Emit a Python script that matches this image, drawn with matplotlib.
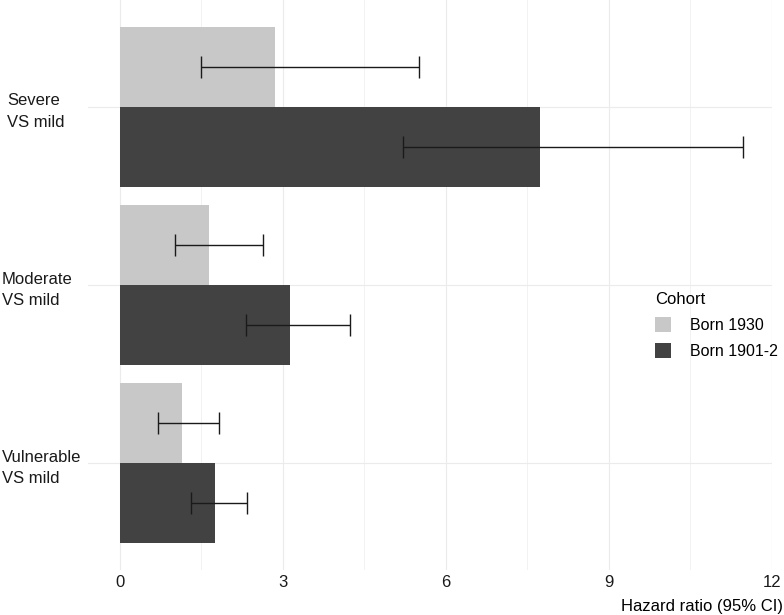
import matplotlib
matplotlib.use("Agg")
import matplotlib.pyplot as plt
import matplotlib.transforms as mtransforms
from matplotlib.patches import Patch
import numpy as np

plt.rcParams['font.family'] = ['Liberation Sans', 'DejaVu Sans']

# ---- data ----
categories = ["Vulnerable\nVS mild", "Moderate\nVS mild", "Severe\nVS mild"]
cohorts = ["Born 1930", "Born 1901-2"]
hr_1930 = [1.14, 1.64, 2.86]
lo_1930 = [0.71, 1.02, 1.49]
hi_1930 = [1.83, 2.64, 5.51]
hr_1901 = [1.76, 3.14, 7.73]
lo_1901 = [1.32, 2.33, 5.21]
hi_1901 = [2.35, 4.23, 11.46]
x_ticks = [0, 3, 6, 9, 12]
x_label = "Hazard ratio (95% CI)"
legend_title = "Cohort"

colors = {"Born 1930": "#C8C8C8", "Born 1901-2": "#424242"}

W, H = 784, 615
fig = plt.figure(figsize=(W / 100, H / 100), dpi=100)
ax = fig.add_axes([88 / W, (H - 570) / H, 684 / W, 570 / H])

ypos = np.arange(1, len(categories) + 1)
bh = 0.45
series = [
    ("Born 1930", hr_1930, lo_1930, hi_1930, +bh / 2),
    ("Born 1901-2", hr_1901, lo_1901, hi_1901, -bh / 2),
]
for name, hr, lo, hi, off in series:
    hr = np.array(hr); lo = np.array(lo); hi = np.array(hi)
    ax.barh(ypos + off, hr, height=bh, color=colors[name], zorder=2, linewidth=0)
    ax.errorbar(hr, ypos + off, xerr=[hr - lo, hi - hr], fmt='none',
                ecolor='#1A1A1A', elinewidth=1.0, capsize=8, capthick=1.0, zorder=3)

ax.set_xlim(-0.58, 12.0)
ax.set_ylim(0.4, 3.6)
ax.set_xticks(x_ticks)
ax.set_xticklabels([str(t) for t in x_ticks])
ax.set_xticks([1.5, 4.5, 7.5, 10.5], minor=True)
ax.set_yticks(ypos)
ax.set_yticklabels(categories)

for s in ax.spines.values():
    s.set_visible(False)
ax.grid(True, which='major', color='#EBEBEB', linewidth=0.8, zorder=0)
ax.grid(True, which='minor', axis='x', color='#F0F0F0', linewidth=0.6, zorder=0)
ax.set_axisbelow(True)
ax.tick_params(axis='both', which='both', length=0)
ax.tick_params(axis='x', labelsize=12, pad=3.5, colors='#1A1A1A')
ax.tick_params(axis='y', labelsize=12, pad=62, colors='#1A1A1A')
for lab in ax.get_yticklabels():
    lab.set_horizontalalignment('left')
    lab.set_multialignment('left')
    lab.set_linespacing(1.55)
# Severe label sits slightly further right
sev = ax.get_yticklabels()[2]
sev.set_transform(sev.get_transform() + mtransforms.ScaledTranslation(5 / 100, 0, fig.dpi_scale_trans))

ax.set_xlabel(x_label, fontsize=12, color='black', ha='right')
ax.xaxis.set_label_coords((783 - 88) / 684, -29 / 570)

handles = [Patch(facecolor=colors[c], edgecolor='none', label=c) for c in cohorts]
leg = fig.legend(handles=handles, title=legend_title, loc='upper left',
                 bbox_to_anchor=(655 / W, 1 - 292 / H), frameon=False,
                 fontsize=11.5, title_fontsize=12, alignment='left',
                 handlelength=1.0, handleheight=1.0, handletextpad=1.2,
                 labelspacing=0.65, borderpad=0, borderaxespad=0)

fig.savefig("out.png", dpi=100)
